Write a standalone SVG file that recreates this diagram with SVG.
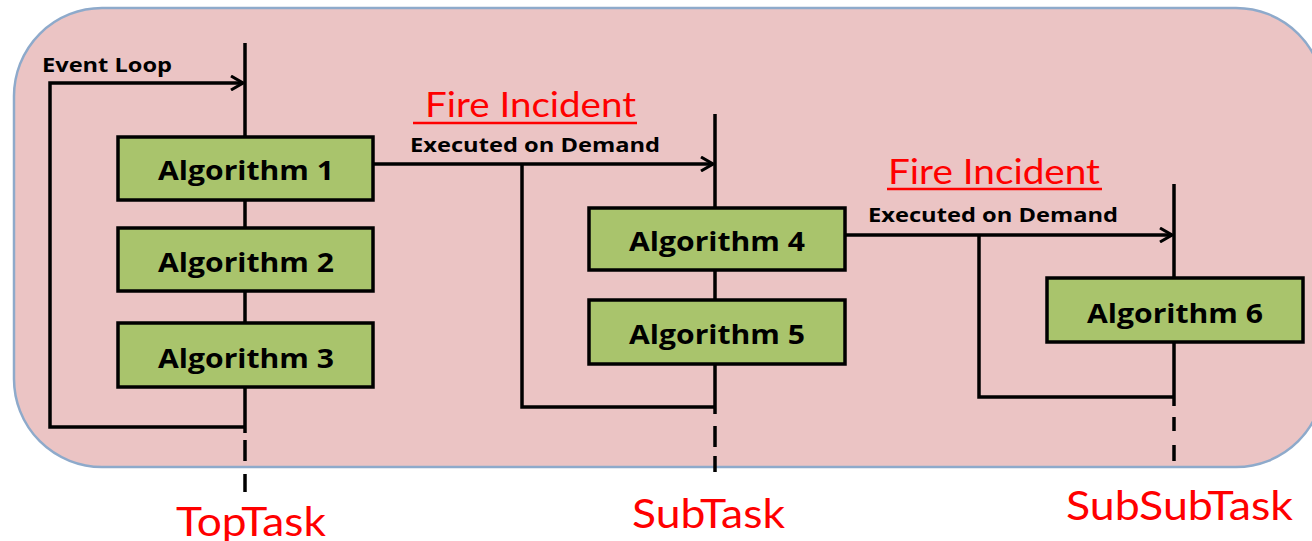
<svg xmlns="http://www.w3.org/2000/svg" width="1312" height="541" viewBox="0 0 1312 541">
  <style>
    .panel { fill: #ebc4c4; stroke: #8eaacb; stroke-width: 2.5; }
    .box { fill: #a9c46c; stroke: #000; stroke-width: 3.5; }
    .boxlabel { font-family: "Open Sans", Lato, sans-serif; font-weight: bold; font-size: 27px; fill: #000; text-anchor: middle; }
    .line { fill: none; stroke: #000; stroke-width: 3.5; }
    .dash { fill: none; stroke: #000; stroke-width: 3.5; }
    .small { font-family: "Open Sans", Lato, sans-serif; font-weight: bold; font-size: 20px; fill: #000; }
    .fire { font-family: Lato, "Open Sans", sans-serif; font-size: 34px; fill: #ff0000; }
    .task { font-family: Lato, "Open Sans", sans-serif; font-size: 41px; fill: #ff0000; }
    .uline { stroke: #ff0000; stroke-width: 2.5; }
  </style>
  <defs>
    <marker id="open" viewBox="0 0 14 16" refX="13" refY="8" markerWidth="14" markerHeight="16" markerUnits="userSpaceOnUse" orient="auto">
      <path d="M1,1 L13,8 L1,15" fill="none" stroke="#000" stroke-width="3"/>
    </marker>
  </defs>

  <!-- background panel -->
  <rect class="panel" x="14" y="8" width="1310" height="459" rx="88" ry="88"/>

  <!-- connectors: task lifelines, loops and demand calls -->
  <g id="connectors">
    <!-- TopTask lifeline -->
    <line class="line" x1="245" y1="43" x2="245" y2="433"/>
    <line class="dash" x1="245" y1="440" x2="245" y2="461"/>
    <line class="dash" x1="245" y1="474" x2="245" y2="492"/>
    <!-- event loop -->
    <polyline class="line" points="245,427 50,427 50,83 243,83" marker-end="url(#open)"/>

    <!-- SubTask lifeline -->
    <line class="line" x1="715" y1="114" x2="715" y2="414"/>
    <line class="dash" x1="715" y1="426" x2="715" y2="447"/>
    <line class="dash" x1="715" y1="456" x2="715" y2="472"/>
    <!-- Algorithm 1 -> SubTask -->
    <line class="line" x1="373" y1="164" x2="713" y2="164" marker-end="url(#open)"/>
    <polyline class="line" points="522,164 522,407 715,407"/>

    <!-- SubSubTask lifeline -->
    <line class="line" x1="1174" y1="184" x2="1174" y2="406"/>
    <line class="dash" x1="1174" y1="417" x2="1174" y2="431"/>
    <line class="dash" x1="1174" y1="445" x2="1174" y2="461"/>
    <!-- Algorithm 4 -> SubSubTask -->
    <line class="line" x1="845" y1="235" x2="1172" y2="235" marker-end="url(#open)"/>
    <polyline class="line" points="979,235 979,397 1174,397"/>
  </g>

  <!-- connector labels -->
  <text class="small" x="42" y="72" textLength="130" lengthAdjust="spacingAndGlyphs">Event Loop</text>
  <g id="fire1">
    <text class="fire" x="425" y="117" textLength="211" lengthAdjust="spacingAndGlyphs">Fire Incident</text>
    <line class="uline" x1="413" y1="123" x2="637" y2="123"/>
  </g>
  <text class="small" x="410" y="152" textLength="250" lengthAdjust="spacingAndGlyphs">Executed on Demand</text>
  <g id="fire2">
    <text class="fire" x="888" y="184" textLength="212" lengthAdjust="spacingAndGlyphs">Fire Incident</text>
    <line class="uline" x1="887" y1="189" x2="1102" y2="189"/>
  </g>
  <text class="small" x="868" y="222" textLength="250" lengthAdjust="spacingAndGlyphs">Executed on Demand</text>

  <!-- algorithm nodes -->
  <g id="alg1">
    <rect class="box" x="118" y="137" width="255" height="63"/>
    <text class="boxlabel" x="246" y="180" textLength="176" lengthAdjust="spacingAndGlyphs">Algorithm 1</text>
  </g>
  <g id="alg2">
    <rect class="box" x="118" y="228" width="255" height="63"/>
    <text class="boxlabel" x="246" y="272" textLength="176" lengthAdjust="spacingAndGlyphs">Algorithm 2</text>
  </g>
  <g id="alg3">
    <rect class="box" x="118" y="323" width="255" height="64"/>
    <text class="boxlabel" x="246" y="368" textLength="176" lengthAdjust="spacingAndGlyphs">Algorithm 3</text>
  </g>
  <g id="alg4">
    <rect class="box" x="589" y="208" width="256" height="62"/>
    <text class="boxlabel" x="717" y="251" textLength="176" lengthAdjust="spacingAndGlyphs">Algorithm 4</text>
  </g>
  <g id="alg5">
    <rect class="box" x="589" y="300" width="256" height="64"/>
    <text class="boxlabel" x="717" y="344" textLength="176" lengthAdjust="spacingAndGlyphs">Algorithm 5</text>
  </g>
  <g id="alg6">
    <rect class="box" x="1047" y="278" width="256" height="64"/>
    <text class="boxlabel" x="1175" y="323" textLength="176" lengthAdjust="spacingAndGlyphs">Algorithm 6</text>
  </g>

  <!-- task names -->
  <text class="task" x="176" y="536" textLength="150" lengthAdjust="spacingAndGlyphs">TopTask</text>
  <text class="task" x="632" y="528" textLength="153" lengthAdjust="spacingAndGlyphs">SubTask</text>
  <text class="task" x="1066" y="520" textLength="227" lengthAdjust="spacingAndGlyphs">SubSubTask</text>
</svg>
